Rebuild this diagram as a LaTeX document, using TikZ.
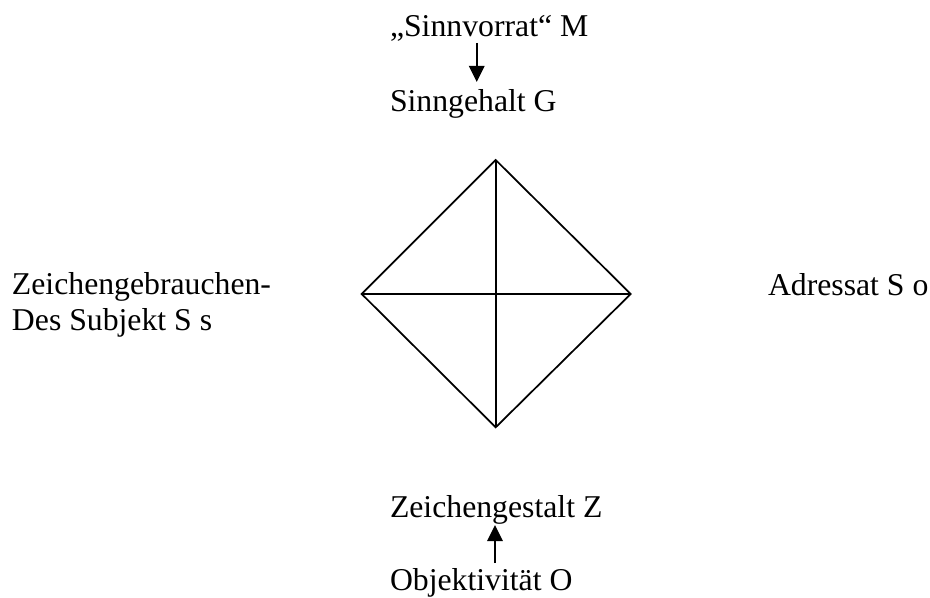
\documentclass[tikz,border=0pt]{standalone}
\usepackage{fontspec}
\setmainfont{Liberation Serif}
\usetikzlibrary{arrows.meta}
\tikzset{
  lbl/.style={anchor=base west, inner sep=0pt, outer sep=0pt, font=\fontsize{23.8}{26.3}\selectfont, align=left},
  arr/.style={line width=1.6pt, -{Triangle[width=11.5pt,length=12pt]}},
  edge/.style={line width=1.3pt, line join=miter}
}
\begin{document}
\begin{tikzpicture}[x=0.75pt,y=-0.75pt]
\useasboundingbox (0,0) rectangle (930,598);
% labels
\node[lbl] (M) at (390,37) {„Sinnvorrat“ M};
\node[lbl] (G) at (390,112) {Sinngehalt G};
\node[lbl] (S) at (12,330) {Zeichengebrauchen-\\Des Subjekt S s};
\node[lbl] (A) at (768,296) {Adressat S o};
\node[lbl] (Z) at (390,517) {Zeichengestalt Z};
\node[lbl] (O) at (390,590) {Objektivität O};
% diamond
\coordinate (T) at (495.7,160);
\coordinate (L) at (361.7,294);
\coordinate (R) at (630.7,294);
\coordinate (B) at (495.7,427.3);
\draw[edge] (T) -- (R) -- (B) -- (L) -- cycle;
\draw[edge] (T) -- (B);
\draw[edge] (L) -- (R);
% arrows
\coordinate (m1) at (476.7,43);
\coordinate (m2) at (476.7,82);
\draw[arr] (m1) -- (m2);
\coordinate (o1) at (495,563);
\coordinate (o2) at (495,525);
\draw[arr] (o1) -- (o2);
\end{tikzpicture}
\end{document}
